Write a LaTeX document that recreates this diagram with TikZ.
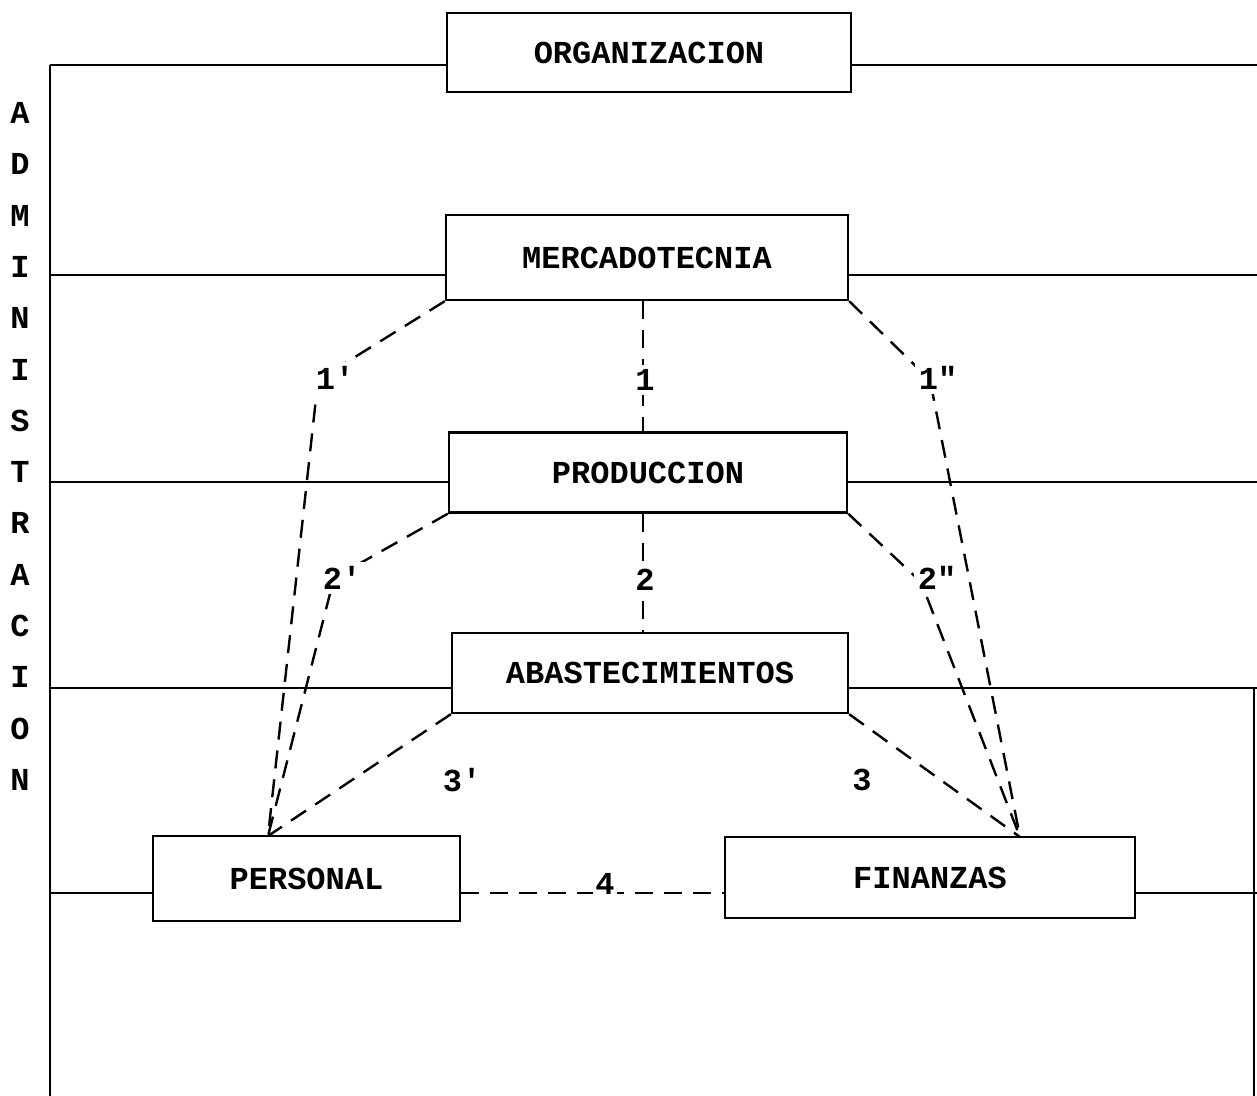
\documentclass[tikz,border=0pt]{standalone}
\usepackage{fontspec}
\setmonofont{Liberation Mono}
\begin{document}
\begin{tikzpicture}[x=0.5pt,y=-0.5pt]
\tikzset{
  tw/.style={font=\ttfamily\bfseries\fontsize{16}{19}\selectfont},
  box/.style={draw, line width=1.2pt, inner sep=0pt, tw},
  rel/.style={dash pattern=on 9pt off 5.5pt, line width=1.2pt},
  solidline/.style={line width=1.2pt},
  lbl/.style={fill=white, inner sep=2pt, tw},
  plainlbl/.style={inner sep=1pt, tw}
}
\useasboundingbox (0,0) rectangle (1257,1096);

% boxes
\node[box, minimum width=404*0.5pt, minimum height=79*0.5pt] (org) at (649,52.5) {ORGANIZACION};
\node[box, minimum width=402*0.5pt, minimum height=85*0.5pt] (merc) at (647,257.5) {MERCADOTECNIA};
\node[box, minimum width=398*0.5pt, minimum height=80*0.5pt] (prod) at (648,472.5) {PRODUCCION};
\node[box, minimum width=396*0.5pt, minimum height=80*0.5pt] (abast) at (650,673) {ABASTECIMIENTOS};
\node[box, minimum width=307*0.5pt, minimum height=85*0.5pt] (pers) at (306.5,878.5) {PERSONAL};
\node[box, minimum width=410*0.5pt, minimum height=81*0.5pt] (fin) at (930,877.5) {FINANZAS};

% frame and level lines
\coordinate (top) at (50,65);
\coordinate (bot) at (50,1096);
\coordinate (rtop) at (1254,688);
\coordinate (rbot) at (1254,1096);
\draw[solidline] (top) -- (bot);
\draw[solidline] (rtop) -- (rbot);
\draw[solidline] (top) -- (org.west |- top);
\draw[solidline] (org.east |- top) -- (1257,65);
\draw[solidline] (50,275) -- (merc.west |- 0,275);
\draw[solidline] (merc.east |- 0,275) -- (1257,275);
\draw[solidline] (50,482) -- (prod.west |- 0,482);
\draw[solidline] (prod.east |- 0,482) -- (1257,482);
\draw[solidline] (50,688) -- (abast.west |- 0,688);
\draw[solidline] (abast.east |- 0,688) -- (1257,688);
\draw[solidline] (50,893) -- (pers.west |- 0,893);
\draw[solidline] (fin.east |- 0,893) -- (1257,893);

% vertical word
\foreach \c [count=\i from 0] in {A,D,M,I,N,I,S,T,R,A,C,I,O,N}
  \node[tw, inner sep=0pt] (v\i) at (20,113+51.3*\i) {\c};

% connector points
\coordinate (pt) at (268,836);
\coordinate (ft) at (1020,837);
\coordinate (b1p) at (318,380);
\coordinate (b2p) at (334,578);
\coordinate (b1pp) at (930,380);
\coordinate (b2pp) at (921,582);

% dashed relations
\draw[rel] (merc.south west) -- (b1p) -- (pt);
\draw[rel] (prod.south west) -- (b2p) -- (pt);
\draw[rel] (abast.south west) -- (pt);
\draw[rel] (merc.south east) -- (b1pp) -- (ft);
\draw[rel] (prod.south east) -- (b2pp) -- (ft);
\draw[rel] (abast.south east) -- (ft);
\draw[rel] (merc.south -| 643,0) -- (prod.north -| 643,0);
\draw[rel] (prod.south -| 643,0) -- (abast.north -| 643,0);
\draw[rel] (pers.east |- 0,893) -- (fin.west |- 0,893);

% labels
\node[lbl] (l1p) at (335,378) {1\symbol{39}};
\node[lbl] (l1) at (645,380) {1};
\node[lbl] (l1pp) at (938,378) {1\symbol{34}};
\node[lbl] (l2p) at (342,578) {2\symbol{39}};
\node[lbl] (l2) at (645,580) {2};
\node[lbl] (l2pp) at (937,578) {2\symbol{34}};
\node[plainlbl] (l3p) at (462,780) {3\symbol{39}};
\node[plainlbl] (l3) at (862,780) {3};
\node[lbl, inner sep=1pt] (l4) at (605,884) {4};
\end{tikzpicture}
\end{document}
